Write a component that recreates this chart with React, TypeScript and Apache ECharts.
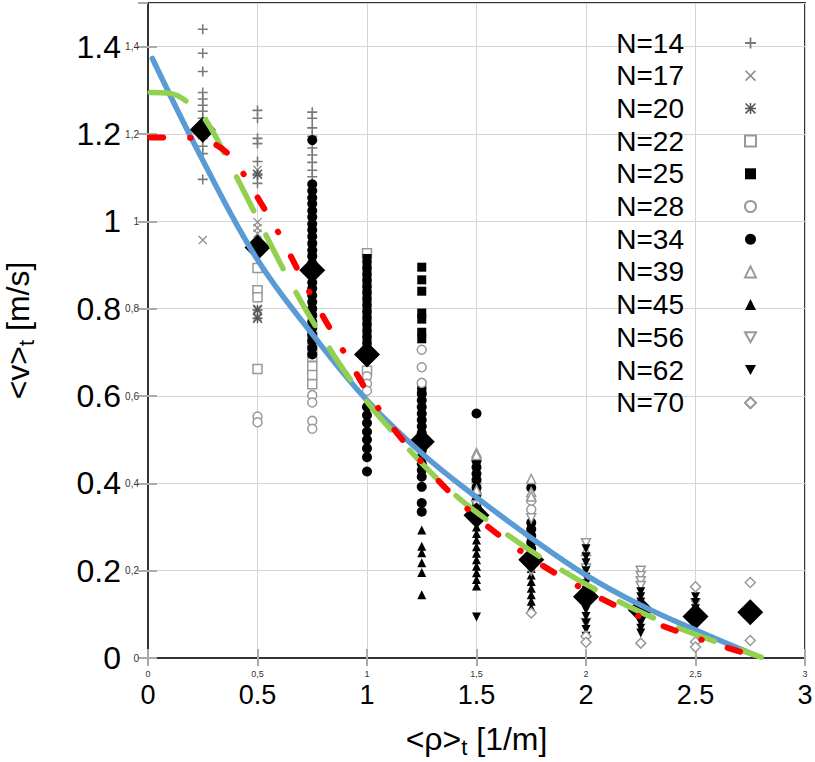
import React, { useEffect, useRef } from 'react';
import * as echarts from 'echarts';

// ---- data ----
const legendNames = ['N=14', 'N=17', 'N=20', 'N=22', 'N=25', 'N=28', 'N=34', 'N=39', 'N=45', 'N=56', 'N=62', 'N=70'];

const n14 = [[0.25,1.44],[0.25,1.385],[0.25,1.343],[0.25,1.295],[0.25,1.28],[0.25,1.266],[0.25,1.252],[0.25,1.236],[0.25,1.19],[0.25,1.172],[0.25,1.155],[0.25,1.096],
  [0.5,1.254],[0.5,1.236],[0.5,1.19],[0.5,1.178],[0.5,1.137],[0.5,1.105],[0.5,1.087],
  [0.75,1.25],[0.75,1.236],[0.75,1.214],[0.75,1.195],[0.75,1.168],[0.75,1.152],[0.75,1.135],[0.75,1.117],[0.75,1.102]];
const n17 = [[0.25,0.957],[0.5,1.118],[0.5,0.998],[0.5,0.985],[0.5,0.972],[0.5,0.8],[0.5,0.782],[0.75,0.962],[0.75,0.905]];
const n20 = [[0.5,1.108],[0.5,0.843],[0.5,0.797],[0.5,0.778],[0.75,0.935],[0.75,0.78]];
const n22 = [[0.5,0.893],[0.5,0.842],[0.5,0.826],[0.5,0.662],[0.75,0.735],[0.75,0.712],[0.75,0.69],[0.75,0.668],[0.75,0.648],[0.75,0.627],[1.0,0.927],[1.0,0.658]];
const n25 = [[1.0,0.915],[1.0,0.9],[1.0,0.886],[1.0,0.872],[1.0,0.858],[1.0,0.844],[1.0,0.83],[1.0,0.815],[1.0,0.8],[1.0,0.786],[1.0,0.771],[1.0,0.757],[1.0,0.742],[1.0,0.728],[1.0,0.714],[1.0,0.7],
  [1.25,0.895],[1.25,0.866],[1.25,0.84],[1.25,0.79],[1.25,0.776],[1.25,0.746],[1.25,0.731],[1.25,0.625],[1.25,0.61]];
const n28 = [[0.5,0.553],[0.5,0.54],[0.75,0.602],[0.75,0.585],[0.75,0.543],[0.75,0.525],[1.0,0.645],[1.0,0.628],[1.0,0.612],[1.25,0.706],[1.25,0.666],[1.25,0.63],[1.5,0.4],[1.75,0.36],[1.75,0.34]];
const n34 = [[0.75,1.186],[0.75,1.085],[0.75,1.07],[0.75,1.054],[0.75,1.04],[0.75,1.024],[0.75,1.01],[0.75,0.994],[0.75,0.98],[0.75,0.965],[0.75,0.95],[0.75,0.934],[0.75,0.92],[0.75,0.904],[0.75,0.875],[0.75,0.86],[0.75,0.846],[0.75,0.83],[0.75,0.815],[0.75,0.8],[0.75,0.785],[0.75,0.77],[0.75,0.755],[0.75,0.74],[0.75,0.726],[0.75,0.71],[0.75,0.695],
  [1.0,0.575],[1.0,0.556],[1.0,0.538],[1.0,0.518],[1.0,0.5],[1.0,0.48],[1.0,0.46],[1.0,0.427],
  [1.25,0.605],[1.25,0.59],[1.25,0.575],[1.25,0.56],[1.25,0.545],[1.25,0.53],[1.25,0.515],[1.25,0.5],[1.25,0.475],[1.25,0.46],[1.25,0.445],[1.25,0.43],[1.25,0.415],[1.25,0.392],[1.25,0.355],[1.25,0.335],
  [1.5,0.56],[1.5,0.452],[1.5,0.437],[1.5,0.422],[1.5,0.408],[1.5,0.39],[1.5,0.375],[1.5,0.36],[1.5,0.345],[1.5,0.33],[1.5,0.315],
  [1.75,0.39],[1.75,0.31],[1.75,0.295],[1.75,0.28],[1.75,0.265],[1.75,0.25]];
const n39 = [[1.5,0.47],[1.5,0.465],[1.5,0.385],[1.75,0.41],[1.75,0.38],[1.75,0.37],[2.0,0.245]];
const n45 = [[1.25,0.293],[1.25,0.256],[1.25,0.241],[1.25,0.218],[1.25,0.196],[1.25,0.145],
  [1.5,0.3],[1.5,0.285],[1.5,0.27],[1.5,0.255],[1.5,0.24],[1.5,0.225],[1.5,0.21],[1.5,0.195],[1.5,0.18],[1.5,0.165],
  [1.75,0.235],[1.75,0.22],[1.75,0.205],[1.75,0.19],[1.75,0.175],[1.75,0.16],[1.75,0.145],[1.75,0.13],[1.75,0.115]];
const n56 = [[1.5,0.35],[1.75,0.32],[1.75,0.2],[2.0,0.263],[2.0,0.205],[2.0,0.08],[2.25,0.2],[2.25,0.188],[2.25,0.176],[2.25,0.165],[2.5,0.125]];
const n62 = [[1.5,0.094],[2.0,0.25],[2.0,0.232],[2.0,0.218],[2.0,0.2],[2.0,0.185],[2.0,0.17],[2.0,0.155],[2.0,0.125],[2.0,0.11],[2.0,0.095],[2.0,0.08],[2.0,0.065],[2.0,0.05],
  [2.25,0.152],[2.25,0.14],[2.25,0.128],[2.25,0.116],[2.25,0.104],[2.25,0.092],[2.25,0.08],[2.25,0.068],[2.25,0.057],
  [2.5,0.14],[2.5,0.127],[2.5,0.113],[2.5,0.085],[2.5,0.072]];
const n70 = [[1.75,0.103],[2.0,0.05],[2.0,0.036],[2.25,0.034],[2.5,0.163],[2.5,0.037],[2.5,0.025],[2.75,0.583],[2.75,0.173],[2.75,0.04]];

const meanValues = [[0.25,1.21],[0.5,0.94],[0.75,0.888],[1.0,0.695],[1.25,0.495],[1.5,0.327],[1.75,0.225],[2.0,0.14],[2.25,0.11],[2.5,0.095],[2.75,0.105]];

const blueCurve = [[0.02,1.373],[0.25,1.14],[0.5,0.912],[0.75,0.742],[1.0,0.59],[1.25,0.469],[1.5,0.368],[1.75,0.275],[2.0,0.19],[2.25,0.121],[2.5,0.064],[2.77,0.007]];
const greenCurve = [[0.01,1.295],[0.1,1.293],[0.2,1.265],[0.27,1.227],[0.365,1.14],[0.5,1.007],[0.64,0.87],[0.785,0.744],[0.96,0.613],[1.14,0.506],[1.365,0.39],[1.6,0.297],[1.85,0.213],[2.12,0.137],[2.39,0.075],[2.8,0.002]];
const redCurve = [[0.01,1.192],[0.115,1.192],[0.22,1.19],[0.315,1.174],[0.385,1.144],[0.447,1.1],[0.5,1.055],[0.6,0.97],[0.74,0.835],[0.89,0.705],[1.045,0.577],[1.23,0.46],[1.44,0.35],[1.676,0.254],[1.93,0.174],[2.2,0.105],[2.48,0.05],[2.77,0.005]];

// ---- symbols ----
const PLUS = 'path://M4.2,0H5.8V4.2H10V5.8H5.8V10H4.2V5.8H0V4.2H4.2Z';
const CROSS = 'path://M0,1L1,0L10,9L9,10Z M9,0L10,1L1,10L0,9Z';
const STAR = 'path://M4.3,0H5.7V10H4.3Z M0,4.3H10V5.7H0Z M0,1L1,0L10,9L9,10Z M9,0L10,1L1,10L0,9Z';
const DOWN = 'path://M0,0H10L5,9Z';

const SANS = "'Liberation Sans',Arial,sans-serif";

function filled(name: string, data: number[][], symbol: string, size: number, color: string) {
  return { type: 'scatter', name, data, symbol, symbolSize: size, z: 2, itemStyle: { color, opacity: 1 } };
}
function hollow(name: string, data: number[][], symbol: string, size: number, color: string) {
  return { type: 'scatter', name, data, symbol, symbolSize: size, z: 2, itemStyle: { color: '#ffffff', borderColor: color, borderWidth: 1.5, opacity: 1 } };
}

export default function App() {
  const ref = useRef<HTMLDivElement>(null);
  useEffect(() => {
    document.body.style.margin = '0';
    if (!ref.current) return;
    const chart = echarts.init(ref.current, undefined, { renderer: 'svg' });
    const fmtDot = (v: number) => String(Math.round(v * 10) / 10);
    const fmtComma = (v: number) => String(Math.round(v * 10) / 10).replace('.', ',');
    const titleRich = {
      a: { fontSize: 32, fontFamily: SANS, color: '#000', lineHeight: 36 },
      s: { fontSize: 22, fontFamily: SANS, color: '#000', lineHeight: 22, padding: [16, 0, 0, 0] },
    };
    const option: any = {
      animation: false,
      backgroundColor: '#ffffff',
      grid: { left: 148, right: 10, top: 3, bottom: 104, show: true, borderColor: '#333', borderWidth: 2, backgroundColor: 'transparent', outerBoundsMode: 'none', containLabel: false },
      legend: {
        data: legendNames,
        orient: 'vertical',
        right: 58,
        top: 29,
        padding: 0,
        align: 'right',
        itemWidth: 11,
        itemHeight: 11,
        itemGap: 4.7,
        selectedMode: false,
        textStyle: { fontSize: 28, fontFamily: SANS, color: '#000', lineHeight: 28, padding: [0, 56, 0, 0] },
      },
      xAxis: [
        {
          type: 'value', min: 0, max: 3, interval: 0.5, position: 'bottom',
          axisLine: { show: true, lineStyle: { color: '#333', width: 2 } },
          axisTick: { show: true, inside: true, length: 9, lineStyle: { color: '#aaa', width: 2 } },
          splitLine: { show: true, lineStyle: { color: '#d4d4d4', width: 1 } },
          axisLabel: { fontSize: 27, fontFamily: SANS, color: '#000', margin: 23, formatter: fmtDot },
          name: '{a|<ρ>}{s|t}{a| [1/m]}', nameLocation: 'middle', nameGap: 63,
          nameTextStyle: { fontSize: 32, fontFamily: SANS, color: '#000', rich: titleRich },
        },
        {
          type: 'value', min: 0, max: 3, interval: 0.5, position: 'bottom',
          axisLine: { show: false }, axisTick: { show: false }, splitLine: { show: false },
          axisLabel: { fontSize: 9, fontFamily: SANS, color: '#333', margin: 11, lineHeight: 10, formatter: fmtComma },
        },
        {
          type: 'value', min: 0, max: 3, interval: 0.5, position: 'top',
          axisLine: { show: true, lineStyle: { color: '#333', width: 2 } },
          axisTick: { show: true, inside: true, length: 8, lineStyle: { color: '#aaa', width: 2 } },
          splitLine: { show: false }, axisLabel: { show: false },
        },
      ],
      yAxis: [
        {
          type: 'value', min: 0, max: 1.5, interval: 0.2, position: 'left',
          axisLine: { show: true, lineStyle: { color: '#333', width: 2 } },
          axisTick: { show: true, inside: true, length: 9, lineStyle: { color: '#aaa', width: 2 } },
          splitLine: { show: true, lineStyle: { color: '#d4d4d4', width: 1 } },
          axisLabel: { fontSize: 32, fontFamily: SANS, color: '#000', margin: 27, showMaxLabel: false, formatter: fmtDot },
          name: '{a|<v>}{s|t}{a| [m/s]}', nameLocation: 'middle', nameGap: 112,
          nameTextStyle: { fontSize: 32, fontFamily: SANS, color: '#000', rich: titleRich },
        },
        {
          type: 'value', min: 0, max: 1.5, interval: 0.2, position: 'left',
          axisLine: { show: false }, axisTick: { show: false }, splitLine: { show: false },
          axisLabel: { fontSize: 10, fontFamily: SANS, color: '#333', margin: 9, showMaxLabel: false, formatter: fmtComma },
        },
        {
          type: 'value', min: 0, max: 1.5, interval: 0.2, position: 'right',
          axisLine: { show: true, lineStyle: { color: '#333', width: 2 } },
          axisTick: { show: true, inside: true, length: 10, lineStyle: { color: '#aaa', width: 2 } },
          splitLine: { show: false }, axisLabel: { show: false },
        },
      ],
      series: [
        filled('N=14', n14, PLUS, 10, '#7a7a7a'),
        filled('N=17', n17, CROSS, 9, '#8a8a8a'),
        filled('N=20', n20, STAR, 10, '#555555'),
        hollow('N=22', n22, 'rect', 9, '#999999'),
        filled('N=25', n25, 'rect', 9, '#000000'),
        hollow('N=28', n28, 'circle', 9, '#999999'),
        filled('N=34', n34, 'circle', 10, '#000000'),
        hollow('N=39', n39, 'triangle', 9, '#999999'),
        filled('N=45', n45, 'triangle', 9, '#000000'),
        hollow('N=56', n56, DOWN, 9, '#999999'),
        filled('N=62', n62, DOWN, 9, '#000000'),
        hollow('N=70', n70, 'diamond', 10, '#999999'),
        { type: 'scatter', name: 'mean', data: meanValues, symbol: 'diamond', symbolSize: 26, z: 3, itemStyle: { color: '#000', opacity: 1 } },
        { type: 'line', name: 'blue', data: blueCurve, smooth: 0.4, symbol: 'none', showSymbol: false, z: 4,
          lineStyle: { color: '#5b9bd5', width: 5.5, cap: 'round' } },
        { type: 'line', name: 'green', data: greenCurve, smooth: 0.4, symbol: 'none', showSymbol: false, z: 5,
          lineStyle: { color: '#92d050', width: 5.5, type: [38, 27], cap: 'round' } },
        { type: 'line', name: 'red', data: redCurve, smooth: 0.4, symbol: 'none', showSymbol: false, z: 6,
          lineStyle: { color: '#ff0000', width: 6, type: [13, 27, 0.5, 27], cap: 'round' } },
      ],
    };
    chart.setOption(option);
    return () => chart.dispose();
  }, []);
  return <div ref={ref} style={{ width: 815, height: 762 }} />;
}
